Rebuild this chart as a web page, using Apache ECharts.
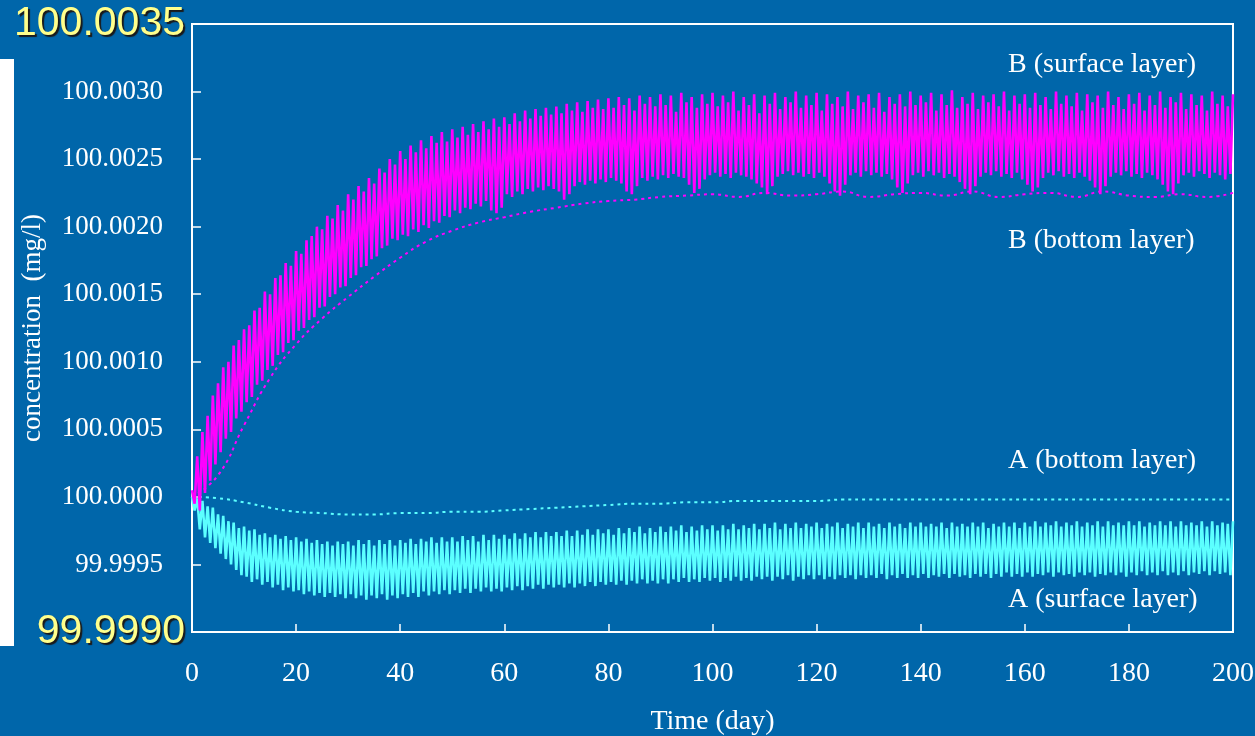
<!DOCTYPE html>
<html>
<head>
<meta charset="utf-8">
<script src="https://cdn.jsdelivr.net/npm/echarts@6/dist/echarts.min.js"></script>
<style>
html,body{margin:0;padding:0;background:#0066aa;}
#chart{width:1255px;height:736px;}
</style>
</head>
<body>
<div id="chart"></div>
<script>
// ---- axis settings / tick values ----
var xMin = 0, xMax = 200, xStep = 20;
var yMin = 99.9990, yMax = 100.0035, yStep = 0.0005;

// ---- B (surface layer): daily high (at day d) and low (at day d + 0.5) ----
var bSurfHigh = [
100.00005,100.00030,100.00048,100.00060,100.00075,100.00084,100.00096,100.00100,100.00112,100.00116,
100.00124,100.00127,100.00138,100.00140,100.00152,100.00150,100.00162,100.00164,100.00173,100.00171,
100.00182,100.00180,100.00190,100.00193,100.00200,100.00198,100.00208,100.00206,100.00216,100.00212,
100.00224,100.00220,100.00230,100.00226,100.00236,100.00232,100.00243,100.00240,100.00250,100.00246,
100.00256,100.00250,100.00260,100.00255,100.00264,100.00258,100.00267,100.00262,100.00270,100.00263,
100.00272,100.00266,100.00274,100.00268,100.00276,100.00270,100.00278,100.00272,100.00280,100.00274,
100.00281,100.00276,100.00284,100.00278,100.00286,100.00280,100.00287,100.00282,100.00288,100.00283,
100.00289,100.00284,100.00291,100.00286,100.00292,100.00285,100.00293,100.00288,100.00294,100.00287,
100.00295,100.00288,100.00296,100.00290,100.00295,100.00286,100.00297,100.00291,100.00296,100.00289,
100.00298,100.00290,100.00297,100.00285,100.00299,100.00292,100.00296,100.00288,100.00298,100.00291,
100.00299,100.00289,100.00297,100.00292,100.00300,100.00286,100.00296,100.00290,100.00298,100.00284,
100.00297,100.00291,100.00299,100.00287,100.00296,100.00292,100.00300,100.00288,100.00297,100.00290,
100.00299,100.00286,100.00298,100.00291,100.00296,100.00289,100.00300,100.00287,100.00297,100.00292,
100.00298,100.00288,100.00299,100.00285,100.00296,100.00291,100.00298,100.00289,100.00300,100.00290,
100.00297,100.00292,100.00299,100.00286,100.00298,100.00290,100.00301,100.00288,100.00296,100.00291,
100.00299,100.00287,100.00297,100.00292,100.00298,100.00289,100.00300,100.00286,100.00297,100.00291,
100.00298,100.00288,100.00299,100.00290,100.00296,100.00287,100.00300,100.00291,100.00297,100.00289,
100.00299,100.00286,100.00298,100.00292,100.00297,100.00288,100.00300,100.00290,100.00296,100.00287,
100.00298,100.00291,100.00299,100.00286,100.00297,100.00290,100.00300,100.00288,100.00296,100.00292,
100.00299,100.00287,100.00298,100.00290,100.00297,100.00286,100.00300,100.00291,100.00297,100.00289,100.00298
];
var bSurfLow = [
99.99995,99.99990,100.00003,100.00012,100.00024,100.00033,100.00043,100.00048,100.00058,100.00063,
100.00070,100.00074,100.00083,100.00086,100.00094,100.00097,100.00105,100.00107,100.00114,100.00116,
100.00123,100.00125,100.00131,100.00133,100.00140,100.00141,100.00148,100.00150,100.00155,100.00156,
100.00162,100.00164,100.00170,100.00171,100.00176,100.00178,100.00184,100.00186,100.00191,100.00190,
100.00194,100.00193,100.00198,100.00196,100.00201,100.00199,100.00204,100.00203,100.00208,100.00207,
100.00212,100.00210,100.00214,100.00213,100.00217,100.00215,100.00219,100.00212,100.00210,100.00214,
100.00224,100.00222,100.00226,100.00224,100.00228,100.00226,100.00229,100.00227,100.00230,100.00228,
100.00226,100.00220,100.00224,100.00230,100.00233,100.00231,100.00234,100.00232,100.00235,100.00233,
100.00236,100.00234,100.00232,100.00226,100.00224,100.00230,100.00236,100.00234,100.00237,100.00235,
100.00238,100.00236,100.00239,100.00237,100.00236,100.00231,100.00225,100.00228,100.00235,100.00238,
100.00240,100.00237,100.00239,100.00236,100.00240,100.00238,100.00237,100.00235,100.00232,100.00229,
100.00224,100.00230,100.00237,100.00239,100.00241,100.00238,100.00240,100.00237,100.00239,100.00236,
100.00240,100.00237,100.00232,100.00226,100.00223,100.00231,100.00238,100.00240,100.00237,100.00241,
100.00238,100.00240,100.00237,100.00239,100.00235,100.00229,100.00225,100.00232,100.00238,100.00240,
100.00237,100.00241,100.00238,100.00240,100.00236,100.00239,100.00237,100.00233,100.00228,100.00224,
100.00230,100.00237,100.00240,100.00238,100.00241,100.00237,100.00239,100.00236,100.00240,100.00235,
100.00231,100.00226,100.00229,100.00236,100.00240,100.00238,100.00241,100.00237,100.00239,100.00236,
100.00240,100.00237,100.00234,100.00229,100.00224,100.00230,100.00237,100.00240,100.00238,100.00241,
100.00237,100.00239,100.00236,100.00240,100.00238,100.00235,100.00231,100.00226,100.00224,100.00232,
100.00238,100.00240,100.00237,100.00241,100.00239,100.00236,100.00240,100.00238,100.00235,100.00239
];

// ---- A (surface layer): daily high (at day d) and low (at day d + 0.5) ----
var aSurfHigh = [
100.00000,99.99999,99.99997,99.99993,99.99992,99.99987,99.99986,99.99982,99.99981,99.99977,
99.99978,99.99975,99.99976,99.99972,99.99973,99.99970,99.99972,99.99969,99.99971,99.99968,
99.99970,99.99967,99.99969,99.99966,99.99968,99.99965,99.99967,99.99964,99.99967,99.99965,
99.99967,99.99964,99.99968,99.99965,99.99968,99.99964,99.99968,99.99965,99.99968,99.99964,
99.99968,99.99966,99.99969,99.99965,99.99969,99.99967,99.99970,99.99966,99.99970,99.99967,
99.99970,99.99967,99.99971,99.99968,99.99971,99.99967,99.99972,99.99968,99.99972,99.99969,
99.99972,99.99969,99.99973,99.99969,99.99973,99.99970,99.99974,99.99970,99.99974,99.99971,
99.99974,99.99971,99.99975,99.99971,99.99975,99.99972,99.99976,99.99972,99.99976,99.99973,
99.99976,99.99972,99.99977,99.99973,99.99977,99.99974,99.99978,99.99973,99.99977,99.99974,
99.99978,99.99974,99.99978,99.99975,99.99979,99.99974,99.99978,99.99975,99.99979,99.99976,
99.99979,99.99975,99.99979,99.99976,99.99980,99.99976,99.99979,99.99977,99.99980,99.99976,
99.99980,99.99977,99.99981,99.99976,99.99980,99.99977,99.99981,99.99977,99.99980,99.99978,
99.99981,99.99977,99.99980,99.99978,99.99981,99.99977,99.99980,99.99978,99.99981,99.99977,
99.99981,99.99978,99.99980,99.99977,99.99981,99.99978,99.99980,99.99977,99.99981,99.99978,
99.99981,99.99978,99.99980,99.99978,99.99981,99.99977,99.99981,99.99978,99.99980,99.99978,
99.99981,99.99978,99.99981,99.99977,99.99980,99.99978,99.99981,99.99978,99.99981,99.99977,
99.99981,99.99978,99.99982,99.99978,99.99981,99.99979,99.99982,99.99978,99.99981,99.99979,
99.99982,99.99978,99.99981,99.99979,99.99982,99.99978,99.99982,99.99979,99.99981,99.99979,
99.99982,99.99979,99.99982,99.99978,99.99981,99.99979,99.99982,99.99979,99.99982,99.99978,
99.99982,99.99979,99.99981,99.99979,99.99982,99.99978,99.99982,99.99979,99.99981,99.99980,99.99982
];
var aSurfLow = [
99.99990,99.99976,99.99970,99.99966,99.99962,99.99958,99.99954,99.99950,99.99946,99.99942,
99.99941,99.99937,99.99939,99.99935,99.99937,99.99933,99.99935,99.99931,99.99933,99.99930,
99.99931,99.99928,99.99930,99.99927,99.99929,99.99926,99.99929,99.99926,99.99928,99.99925,
99.99928,99.99925,99.99927,99.99924,99.99927,99.99925,99.99928,99.99924,99.99927,99.99925,
99.99928,99.99926,99.99929,99.99926,99.99930,99.99927,99.99930,99.99928,99.99931,99.99928,
99.99931,99.99929,99.99932,99.99929,99.99932,99.99930,99.99933,99.99930,99.99932,99.99930,
99.99933,99.99931,99.99934,99.99931,99.99934,99.99932,99.99935,99.99932,99.99935,99.99933,
99.99935,99.99933,99.99936,99.99933,99.99936,99.99934,99.99937,99.99934,99.99937,99.99935,
99.99937,99.99935,99.99938,99.99935,99.99938,99.99936,99.99939,99.99936,99.99938,99.99936,
99.99939,99.99936,99.99939,99.99937,99.99940,99.99937,99.99939,99.99937,99.99940,99.99938,
99.99940,99.99937,99.99940,99.99938,99.99941,99.99938,99.99940,99.99938,99.99941,99.99939,
99.99941,99.99938,99.99941,99.99939,99.99942,99.99938,99.99941,99.99939,99.99942,99.99939,
99.99942,99.99939,99.99941,99.99939,99.99942,99.99940,99.99942,99.99939,99.99942,99.99940,
99.99942,99.99940,99.99943,99.99939,99.99942,99.99940,99.99943,99.99940,99.99942,99.99940,
99.99943,99.99940,99.99942,99.99941,99.99943,99.99940,99.99943,99.99941,99.99942,99.99940,
99.99943,99.99941,99.99943,99.99940,99.99943,99.99941,99.99944,99.99941,99.99943,99.99941,
99.99944,99.99941,99.99943,99.99942,99.99944,99.99941,99.99944,99.99942,99.99943,99.99941,
99.99944,99.99942,99.99944,99.99941,99.99943,99.99942,99.99944,99.99942,99.99944,99.99941,
99.99944,99.99942,99.99945,99.99942,99.99944,99.99942,99.99945,99.99942,99.99944,99.99942,
99.99945,99.99942,99.99944,99.99943,99.99945,99.99942,99.99945,99.99943,99.99944,99.99942
];

// ---- bottom layers, every 5 days ----
var bottomDays = [0,5,10,15,20,25,30,35,40,45,50,55,60,65,70,75,80,85,90,95,100,
  105,110,115,120,125,130,135,140,145,150,155,160,165,170,175,180,185,190,195,200];
var bBottom = [100.00000,100.00016,100.00053,100.00088,100.00113,100.00132,100.00148,100.00163,100.00177,100.00189,
  100.00197,100.00203,100.00207,100.00211,100.00214,100.00217,100.00219,100.00220,100.00222,100.00223,100.00224,
  100.00222,100.00225,100.00223,100.00224,100.00226,100.00222,100.00224,100.00225,100.00223,100.00226,
  100.00222,100.00224,100.00225,100.00222,100.00226,100.00223,100.00222,100.00224,100.00222,100.00225];
var aBottom = [100.00000,99.99999,99.99996,99.99992,99.99989,99.99988,99.99987,99.99987,99.99988,99.99988,
  99.99989,99.99989,99.99990,99.99991,99.99992,99.99993,99.99994,99.99995,99.99995,99.99996,99.99996,
  99.99997,99.99997,99.99997,99.99997,99.99998,99.99998,99.99998,99.99998,99.99998,99.99998,
  99.99998,99.99998,99.99998,99.99998,99.99998,99.99998,99.99998,99.99998,99.99998,99.99998];

var labels = {
  bSurf: 'B (surface layer)', bBot: 'B (bottom layer)',
  aBot: 'A (bottom layer)', aSurf: 'A (surface layer)'
};

function tidal(high, low) {
  var out = [];
  for (var d = 0; d < high.length; d++) {
    out.push([d, high[d]]);
    if (d < low.length) out.push([d + 0.5, low[d]]);
  }
  return out;
}
function pairs(xs, ys) { return xs.map(function (x, i) { return [x, ys[i]]; }); }

var serif = '"Liberation Serif", "Times New Roman", serif';
var chart = echarts.init(document.getElementById('chart'));
chart.setOption({
  backgroundColor: '#0066aa',
  animation: false,
  grid: { left: 192, right: 22, top: 24, bottom: 104, containLabel: false, outerBoundsMode: 'none',
          show: true, borderColor: '#ffffff', borderWidth: 2, backgroundColor: 'transparent' },
  xAxis: {
    type: 'value', min: xMin, max: xMax, interval: xStep,
    name: 'Time (day)', nameLocation: 'middle', nameGap: 76, nameMoveOverlap: false,
    nameTextStyle: { color: '#fff', fontFamily: serif, fontSize: 28 },
    axisLine: { lineStyle: { color: '#fff', width: 2 } },
    axisTick: { inside: true, length: 8, lineStyle: { color: '#fff', width: 1.5 } },
    axisLabel: { color: '#fff', fontFamily: serif, fontSize: 28, margin: 28 },
    splitLine: { show: false }
  },
  yAxis: {
    type: 'value', min: yMin, max: yMax, interval: yStep,
    name: 'concentration  (mg/l)', nameLocation: 'middle', nameGap: 146, nameMoveOverlap: false,
    nameTextStyle: { color: '#fff', fontFamily: serif, fontSize: 27 },
    axisLine: { lineStyle: { color: '#fff', width: 2 } },
    axisTick: { inside: true, length: 9, lineStyle: { color: '#fff', width: 1.5 } },
    splitLine: { show: false },
    axisLabel: {
      margin: 7, showMinLabel: true, showMaxLabel: true,
      formatter: function (v) {
        var s = v.toFixed(4);
        if (Math.abs(v - yMin) < 1e-8 || Math.abs(v - yMax) < 1e-8) return '{big|' + s + '}';
        return '{n|' + s + '}';
      },
      rich: {
        n: { color: '#fff', fontFamily: serif, fontSize: 27, padding: [0, 22, 0, 0] },
        big: { color: '#ffff8c', fontFamily: '"Liberation Sans", Arial, sans-serif', fontSize: 41,
               textShadowColor: '#1a1a1a', textShadowOffsetX: 2, textShadowOffsetY: 2, textShadowBlur: 1 }
      }
    }
  },
  graphic: [
    { type: 'rect', left: 0, top: 59, z: -1, shape: { width: 14, height: 587 }, style: { fill: '#ffffff' } },
    { type: 'text', x: 1008, y: 65, z: 100, style: { text: labels.bSurf, fill: '#fff', font: '28px ' + serif, verticalAlign: 'middle' } },
    { type: 'text', x: 1008, y: 241, z: 100, style: { text: labels.bBot, fill: '#fff', font: '28px ' + serif, verticalAlign: 'middle' } },
    { type: 'text', x: 1008, y: 461, z: 100, style: { text: labels.aBot, fill: '#fff', font: '28px ' + serif, verticalAlign: 'middle' } },
    { type: 'text', x: 1008, y: 600, z: 100, style: { text: labels.aSurf, fill: '#fff', font: '28px ' + serif, verticalAlign: 'middle' } }
  ],
  series: [
    { name: labels.aSurf, type: 'line', data: tidal(aSurfHigh, aSurfLow), showSymbol: false, sampling: null,
      lineStyle: { color: '#5cffff', width: 2.6 }, z: 2 },
    { name: labels.aBot, type: 'line', data: pairs(bottomDays, aBottom), showSymbol: false, smooth: true,
      lineStyle: { color: '#5cffff', width: 2, type: [3, 4] }, z: 3 },
    { name: labels.bBot, type: 'line', data: pairs(bottomDays, bBottom), showSymbol: false, smooth: true,
      lineStyle: { color: '#ff00ff', width: 2, type: [3, 4] }, z: 3 },
    { name: labels.bSurf, type: 'line', data: tidal(bSurfHigh, bSurfLow), showSymbol: false, sampling: null,
      lineStyle: { color: '#ff00ff', width: 2.6 }, z: 4 }
  ]
});
</script>
</body>
</html>
